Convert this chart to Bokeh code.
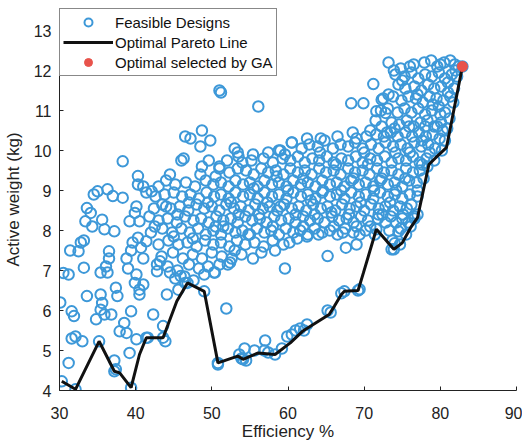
from bokeh.plotting import figure
from bokeh.models import Legend, LegendItem, Range1d, FixedTicker
from bokeh.embed import file_html
from bokeh.resources import INLINE

# ---- data ----
x_ticks = [30, 40, 50, 60, 70, 80, 90]
y_ticks = [4, 5, 6, 7, 8, 9, 10, 11, 12, 13]

pareto_x = [30.3, 32.1, 35.2, 37.2, 37.9, 39.4, 40.5, 41.4, 43.6, 45.4, 46.8, 49.0, 50.8, 53.4, 54.1,
            56.1, 58.3, 60.3, 61.9, 65.4, 66.1, 67.0, 67.4, 69.2, 69.9, 71.6, 73.9, 75.0, 76.1, 77.0,
            78.5, 79.4, 80.8, 82.9]
pareto_y = [4.23, 4.03, 5.23, 4.48, 4.44, 4.07, 4.9, 5.32, 5.32, 6.23, 6.69, 6.48, 4.69, 4.86, 4.78,
            4.94, 4.9, 5.19, 5.48, 5.9, 6.11, 6.4, 6.48, 6.5, 6.94, 8.03, 7.53, 7.69, 8.07, 8.32,
            9.65, 9.82, 10.07, 12.1]

ga_x = [82.9]
ga_y = [12.1]

sparse_pts = [
    (30.1, 6.2), (30.5, 6.94), (31.2, 6.9), (31.4, 7.5), (31.2, 4.69), (31.6, 5.98), (31.9, 5.86),
    (31.6, 5.3), (32.1, 5.35), (32.5, 7.48), (33.0, 5.23), (32.8, 7.7), (33.2, 7.75), (33.2, 7.07),
    (33.4, 8.23), (33.6, 8.56), (34.1, 8.44), (33.6, 6.36), (34.5, 8.9), (34.3, 8.1), (35.0, 8.98),
    (34.8, 5.78), (35.4, 6.4), (35.6, 6.19), (35.4, 6.02), (35.9, 5.9), (35.4, 6.95), (35.6, 8.27),
    (35.9, 8.03), (36.3, 9.03), (36.5, 7.48), (36.5, 7.3), (36.3, 6.95), (36.1, 7.1), (36.8, 5.9),
    (37.0, 8.86), (37.2, 7.98), (37.2, 4.75), (37.4, 6.57), (37.6, 6.36), (37.4, 4.53), (38.3, 9.73),
    (38.3, 8.82), (37.9, 5.48), (38.5, 5.69), (38.8, 5.44), (38.8, 7.3), (39.0, 7.05), (39.2, 8.23),
    (39.2, 4.94), (39.4, 5.98), (39.4, 7.5), (39.6, 7.7), (40.1, 5.28), (39.9, 8.44), (40.1, 8.6),
    (39.9, 6.69), (40.5, 6.52), (41.0, 6.65), (40.5, 6.4), (40.1, 6.9), (40.3, 9.36), (40.3, 9.15),
    (41.0, 9.1), (40.5, 8.23), (40.3, 7.82), (41.4, 7.73), (40.7, 7.57), (41.0, 7.3), (41.6, 5.32),
    (42.1, 8.98), (42.3, 5.9), (42.8, 7.15), (42.8, 6.98), (43.2, 7.23), (43.6, 5.61), (43.9, 5.23),
    (44.1, 6.4), (44.5, 9.4), (44.5, 6.95), (45.9, 6.86), (46.5, 6.69), (45.6, 6.52), (46.0, 9.75),
    (46.3, 9.8), (46.5, 10.35), (47.2, 10.3), (48.5, 10.1), (48.7, 10.5), (48.7, 9.6), (49.6, 9.75),
    (49.8, 10.25), (50.3, 6.95), (50.8, 4.65), (51.0, 11.5), (51.2, 11.45), (51.0, 9.6), (51.9, 6.05),
    (52.1, 7.15), (53.0, 10.05), (53.4, 9.95), (53.6, 4.9), (53.9, 4.8), (54.5, 4.75), (54.3, 5.05),
    (55.6, 5.0), (56.1, 11.1), (56.9, 5.0), (57.0, 5.25), (57.4, 4.95), (57.4, 9.95), (58.3, 4.9),
    (58.3, 7.5), (58.8, 10.0), (59.2, 5.05), (59.6, 7.05), (59.6, 9.9), (59.9, 5.35), (60.5, 5.4),
    (60.5, 10.2), (61.0, 5.5), (61.6, 5.55), (62.1, 5.5), (62.5, 5.65), (65.6, 5.95), (65.2, 6.0),
    (65.2, 7.36), (67.0, 6.43), (67.6, 7.57), (68.3, 11.18), (69.0, 7.65), (69.4, 6.53), (69.4, 7.9),
    (69.9, 11.18), (71.2, 11.66), (72.3, 11.27), (71.6, 10.98), (72.8, 10.94), (73.2, 11.4),
    (73.2, 12.2), (73.9, 12.0), (73.6, 7.53), (74.0, 7.68), (74.5, 7.98), (75.0, 8.3), (76.1, 8.1),
    (76.6, 8.3), (77.0, 8.4),
    (30.3, 4.23), (32.1, 4.03), (35.2, 5.23), (37.2, 4.48), (39.4, 4.07), (41.4, 5.32), (43.6, 5.32),
    (46.8, 6.69), (49.0, 6.48), (50.8, 4.69), (54.1, 4.78), (67.4, 6.48), (69.2, 6.5), (71.6, 8.03),
    (73.9, 7.53), (82.9, 12.1),
]

upper_pts = [
    (76.5, 12.15), (77.9, 12.2), (78.8, 12.25), (79.6, 12.1), (80.5, 12.2), (81.3, 12.25), (81.9, 12.15), (82.4, 12.1),
    (74.1, 11.9), (75.3, 11.85), (76.2, 11.95), (77.1, 11.8), (78.0, 11.9), (78.9, 11.85), (79.8, 11.95), (80.6, 11.8),
    (81.5, 11.9), (82.2, 11.85),
    (74.5, 11.65), (75.4, 11.55), (76.6, 11.6), (77.5, 11.5), (78.4, 11.65), (79.2, 11.55), (80.1, 11.6), (81.0, 11.7),
    (81.8, 11.55),
    (72.5, 11.3), (73.8, 11.35), (74.9, 11.25), (75.8, 11.35), (76.8, 11.3), (77.7, 11.2), (78.6, 11.35), (79.5, 11.3),
    (80.4, 11.25), (81.3, 11.35),
    (72.2, 11.0), (73.1, 11.05), (74.4, 10.95), (75.3, 11.05), (76.2, 10.95), (77.1, 11.05), (78.0, 10.9), (78.9, 11.0),
    (79.8, 11.1), (80.6, 10.95), (81.2, 10.8),
    (71.5, 10.75), (73.6, 10.7), (74.6, 10.65), (75.6, 10.75), (76.5, 10.6), (77.4, 10.7), (78.3, 10.75), (79.2, 10.6),
    (80.1, 10.7), (80.9, 10.55),
    (69.0, 10.3), (70.3, 10.35), (71.6, 10.4), (72.6, 10.35), (73.5, 10.45), (74.4, 10.35), (75.4, 10.45), (76.3, 10.35),
    (77.2, 10.45), (78.1, 10.35), (79.0, 10.4), (79.9, 10.3), (80.6, 10.25),
]

middle_pts = [
    (59.0, 10.0), (60.5, 10.2), (61.8, 10.05), (62.8, 10.15), (63.9, 10.1), (64.8, 10.25), (65.9, 10.05), (66.9, 10.15),
    (67.9, 10.1), (68.8, 10.2), (69.8, 10.05), (70.9, 10.15), (71.9, 10.05), (72.8, 10.2), (73.8, 10.1), (74.8, 10.15),
    (75.7, 10.05), (76.6, 10.2), (77.5, 10.1), (78.4, 10.15), (79.3, 10.05), (80.2, 10.0),
    (53.5, 9.85), (55.2, 9.75), (56.8, 9.8), (58.0, 9.7), (59.3, 9.8), (60.3, 9.75), (61.3, 9.85), (62.2, 9.7),
    (63.2, 9.8), (64.1, 9.75), (65.1, 9.85), (66.0, 9.7), (67.0, 9.8), (67.9, 9.75), (68.9, 9.85), (69.8, 9.7),
    (70.8, 9.8), (71.7, 9.75), (72.7, 9.85), (73.6, 9.7), (74.5, 9.8), (75.5, 9.75), (76.4, 9.85), (77.3, 9.7),
    (78.2, 9.8), (79.2, 9.75),
    (51.0, 9.55), (52.3, 9.45), (53.4, 9.55), (54.5, 9.5), (55.5, 9.4), (56.5, 9.55), (57.4, 9.45), (58.4, 9.5),
    (59.4, 9.4), (60.3, 9.55), (61.3, 9.45), (62.2, 9.5), (63.1, 9.4), (64.1, 9.55), (65.0, 9.45), (66.0, 9.5),
    (66.9, 9.4), (67.9, 9.55), (68.8, 9.45), (69.8, 9.5), (70.7, 9.4), (71.7, 9.55), (72.6, 9.45), (73.6, 9.5),
    (74.5, 9.4), (75.5, 9.55), (76.4, 9.45), (77.3, 9.5), (78.3, 9.6),
    (44.0, 9.25), (45.2, 9.15), (46.6, 9.2), (47.8, 9.1), (49.2, 9.25), (50.2, 9.15), (51.2, 9.2), (52.2, 9.1),
    (53.1, 9.25), (54.1, 9.15), (55.0, 9.2), (56.0, 9.1), (56.9, 9.25), (57.9, 9.15), (58.8, 9.2), (59.8, 9.1),
    (60.7, 9.25), (61.7, 9.15), (62.6, 9.2), (63.6, 9.1), (64.5, 9.25), (65.5, 9.15), (66.4, 9.2), (67.4, 9.1),
    (68.3, 9.25), (69.3, 9.15), (70.2, 9.2), (71.2, 9.1), (72.1, 9.25), (73.1, 9.15), (74.0, 9.2), (75.0, 9.1),
    (75.9, 9.25), (76.9, 9.2), (77.8, 9.3),
]

lower_pts = [
    (41.4, 8.95), (42.6, 8.85), (43.8, 8.9), (45.0, 8.95), (46.1, 8.85), (47.2, 8.9), (48.3, 8.8), (49.3, 8.95),
    (50.3, 8.85), (51.2, 8.9), (52.2, 8.8), (53.1, 8.95), (54.1, 8.85), (55.0, 8.9), (56.0, 8.8), (56.9, 8.95),
    (57.9, 8.85), (58.8, 8.9), (59.8, 8.8), (60.7, 8.95), (61.7, 8.85), (62.6, 8.9), (63.6, 8.8), (64.5, 8.95),
    (65.5, 8.85), (66.4, 8.9), (67.4, 8.8), (68.3, 8.95), (69.3, 8.85), (70.2, 8.9), (71.2, 8.8), (72.1, 8.95),
    (73.1, 8.85), (74.0, 8.9), (75.0, 8.8), (76.0, 8.9), (77.0, 8.85),
    (42.4, 8.55), (43.5, 8.65), (44.6, 8.55), (45.8, 8.6), (46.9, 8.5), (48.0, 8.65), (49.0, 8.55), (50.0, 8.6),
    (51.0, 8.5), (51.9, 8.65), (52.9, 8.55), (53.8, 8.6), (54.8, 8.5), (55.7, 8.65), (56.7, 8.55), (57.6, 8.6),
    (58.6, 8.5), (59.5, 8.65), (60.5, 8.55), (61.4, 8.6), (62.4, 8.5), (63.3, 8.65), (64.3, 8.55), (65.2, 8.6),
    (66.2, 8.5), (67.1, 8.65), (68.1, 8.55), (69.0, 8.6), (70.0, 8.5), (70.9, 8.65), (71.9, 8.55), (72.8, 8.6),
    (73.8, 8.5), (74.7, 8.6), (75.6, 8.55),
    (41.8, 8.35), (43.0, 8.25), (44.2, 8.3), (45.4, 8.2), (46.5, 8.35), (47.6, 8.25), (48.6, 8.3), (49.6, 8.2),
    (50.6, 8.35), (51.5, 8.25), (52.5, 8.3), (53.4, 8.2), (54.4, 8.35), (55.3, 8.25), (56.3, 8.3), (57.2, 8.2),
    (58.2, 8.35), (59.1, 8.25), (60.1, 8.3), (61.0, 8.2), (62.0, 8.35), (62.9, 8.25), (63.9, 8.3), (64.8, 8.2),
    (65.8, 8.35), (66.7, 8.25), (67.7, 8.3), (68.6, 8.2), (69.6, 8.35), (70.5, 8.25), (71.8, 8.3), (72.8, 8.2),
    (73.5, 8.35), (75.8, 8.2), (76.6, 8.35),
    (42.0, 7.95), (43.5, 8.05), (44.8, 7.95), (46.0, 8.05), (47.1, 7.95), (48.2, 8.05), (49.2, 7.9), (50.2, 8.0),
    (51.2, 7.9), (52.1, 8.05), (53.1, 7.95), (54.0, 8.0), (55.0, 7.9), (55.9, 8.05), (56.9, 7.95), (57.8, 8.0),
    (58.8, 7.9), (59.7, 8.05), (60.7, 7.95), (61.6, 8.0), (62.6, 7.9), (63.5, 8.05), (64.5, 7.95), (65.5, 8.0),
    (66.5, 7.9), (67.5, 8.05), (68.6, 7.95), (70.2, 8.0), (71.4, 7.9), (73.3, 8.0), (74.8, 8.05), (75.5, 7.9),
    (43.0, 7.65), (44.3, 7.75), (45.6, 7.65), (46.8, 7.7), (48.0, 7.6), (49.1, 7.75), (50.2, 7.65), (51.2, 7.7),
    (52.3, 7.6), (53.3, 7.75), (54.4, 7.65), (55.6, 7.7), (56.8, 7.6), (58.0, 7.75), (59.4, 7.65), (61.2, 7.8),
    (62.5, 7.85), (73.7, 7.75), (74.7, 7.65),
    (43.4, 7.35), (44.9, 7.45), (46.2, 7.3), (47.5, 7.4), (48.7, 7.3), (50.0, 7.45), (51.3, 7.35), (52.6, 7.3),
    (53.9, 7.4), (55.4, 7.3), (56.5, 7.45),
    (44.2, 7.1), (45.5, 7.0), (47.0, 7.15), (48.3, 7.05), (49.5, 7.1), (51.0, 7.15), (52.4, 7.2),
    (45.2, 6.8), (46.4, 6.85), (47.6, 6.75), (49.0, 6.9), (50.4, 6.95),
]

fill_pts = [
    (55.5, 9.05), (57.3, 8.7), (58.5, 9.35), (60.0, 9.0), (61.0, 8.4), (62.0, 9.3), (63.0, 8.75), (64.2, 9.95),
    (64.6, 9.0), (65.7, 8.45), (66.3, 9.65), (67.0, 9.0), (68.0, 8.4), (68.6, 9.3), (69.5, 8.7), (70.0, 9.95),
    (70.5, 9.65), (71.3, 9.0), (71.9, 8.4), (72.3, 9.3), (73.0, 10.45), (73.4, 8.7), (74.1, 9.95), (74.2, 9.0),
    (75.1, 8.4), (75.4, 9.3), (76.2, 8.65), (76.0, 9.95), (77.0, 9.0), (77.6, 9.65), (78.6, 9.95), (78.0, 10.6),
    (79.6, 10.6), (80.3, 10.5), (81.0, 11.45), (79.0, 11.15), (77.0, 11.4), (75.0, 11.75), (76.0, 12.1),
    (74.8, 12.05), (80.0, 12.15), (82.0, 12.0), (81.7, 11.2), (80.0, 10.9), (77.6, 10.25), (75.9, 10.6),
    (74.0, 10.55), (72.3, 10.6), (70.8, 10.5), (68.5, 10.45), (66.5, 10.35), (64.3, 10.3), (62.5, 10.3),
    (45.5, 8.4), (47.0, 8.7), (48.5, 9.4), (50.5, 9.35), (52.0, 9.75), (54.0, 9.7), (53.5, 8.4), (52.5, 8.7),
    (50.5, 8.1), (49.5, 8.7), (47.5, 7.8), (45.0, 7.85), (44.0, 8.6), (42.5, 8.1), (43.0, 9.1), (55.4, 9.9),
    (56.2, 8.4), (58.0, 8.1), (59.0, 8.6), (60.2, 7.7), (62.0, 8.1), (63.5, 8.4), (64.0, 7.9), (66.0, 8.1),
    (67.2, 7.95), (69.0, 8.1), (70.8, 8.1), (72.4, 8.4), (74.2, 8.2), (54.8, 7.9), (53.0, 7.5), (51.5, 8.1),
]

all_pts = sparse_pts + upper_pts + middle_pts + lower_pts + fill_pts
feas_x = [p[0] for p in all_pts]
feas_y = [p[1] for p in all_pts]

FONT = "Liberation Sans"

p = figure(width=522, height=445, output_backend="svg", toolbar_location=None,
           x_range=Range1d(30, 90), y_range=Range1d(4, 13.55),
           min_border_left=53, min_border_right=6, min_border_top=8, min_border_bottom=55)
p.outline_line_color = None
p.grid.visible = False
p.background_fill_color = "white"

r_feas = p.scatter(feas_x, feas_y, marker="circle", size=10.5, fill_color=None,
                   line_color="#3d98d8", line_width=2)
r_par = p.line(pareto_x, pareto_y, line_color="#111111", line_width=3)
r_ga = p.scatter(ga_x, ga_y, marker="circle", size=10, fill_color="#e8534b",
                 line_color="#e8534b")

for ax in (p.xaxis[0], p.yaxis[0]):
    ax.major_tick_in = 4
    ax.major_tick_out = 0
    ax.minor_tick_line_color = None
    ax.axis_line_color = "#222222"
    ax.major_tick_line_color = "#222222"
    ax.major_label_text_font = FONT
    ax.major_label_text_font_size = "16px"
    ax.major_label_text_color = "#222222"
    ax.axis_label_text_font = FONT
    ax.axis_label_text_font_size = "17px"
    ax.axis_label_text_font_style = "normal"
    ax.axis_label_text_color = "#222222"

p.xaxis.ticker = FixedTicker(ticks=x_ticks)
p.yaxis.ticker = FixedTicker(ticks=y_ticks)
p.xaxis.axis_label = "Efficiency %"
p.yaxis.axis_label = "Active weight (kg)"
p.xaxis.major_label_standoff = 16
p.xaxis.axis_label_standoff = 0
p.yaxis.major_label_standoff = 8
p.yaxis.axis_label_standoff = 8

legend = Legend(items=[
    LegendItem(label="Feasible Designs", renderers=[r_feas]),
    LegendItem(label="Optimal Pareto Line", renderers=[r_par]),
    LegendItem(label="Optimal selected by GA", renderers=[r_ga]),
], location="top_left")
legend.margin = 0
legend.padding = 3
legend.spacing = 0
legend.glyph_width = 50
legend.glyph_height = 20
legend.label_height = 20
legend.label_standoff = 2
legend.label_text_font = FONT
legend.label_text_font_size = "15px"
legend.label_text_color = "#111111"
legend.border_line_color = "#111111"
legend.border_line_width = 1.2
legend.background_fill_alpha = 1
p.add_layout(legend)

open("out.html", "w").write(file_html(p, INLINE))
